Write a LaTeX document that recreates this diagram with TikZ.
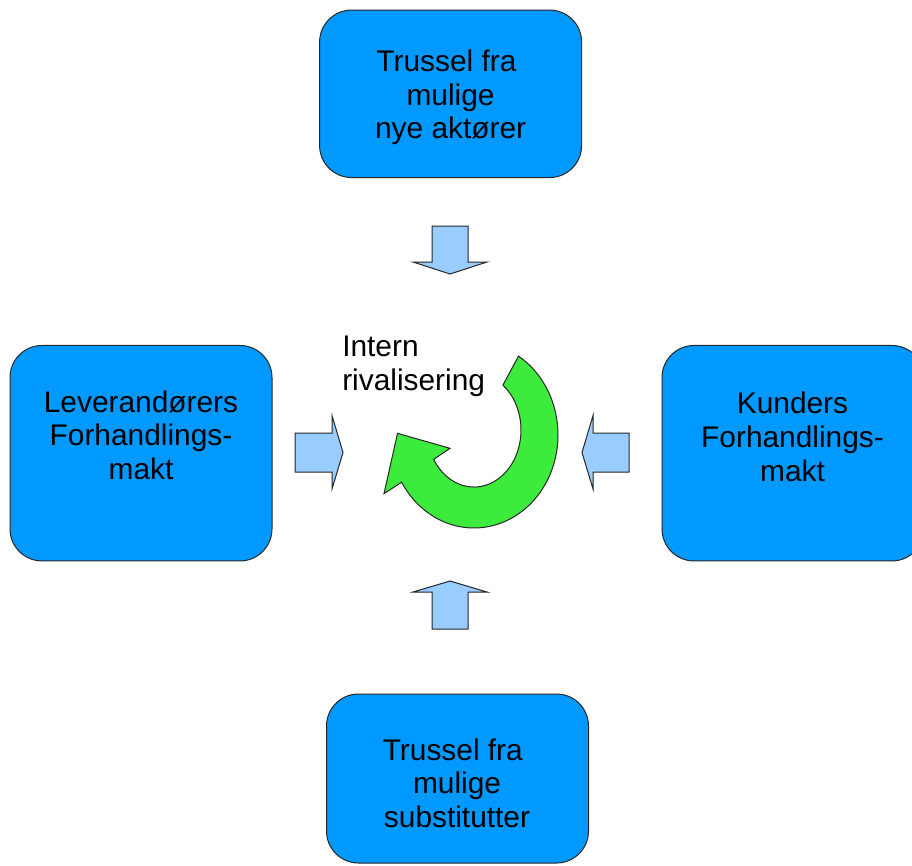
\documentclass[tikz,border=0pt]{standalone}
\usepackage{fontspec}
\setmainfont{Liberation Sans}
\definecolor{boxblue}{HTML}{0099FF}
\definecolor{arrowblue}{HTML}{99CCFF}
\definecolor{ringgreen}{HTML}{3DEB3D}
\begin{document}
\begin{tikzpicture}[x=0.75pt,y=-0.75pt,
  box/.style={draw=black!85, line width=0.75pt, fill=boxblue,
    rounded corners=24pt, inner sep=0pt, minimum width=196.5pt},
  lbl/.style={inner sep=0pt, align=center,
    font=\fontsize{22.4pt}{25.3pt}\selectfont},
  blockarrow/.style={draw=black!85, line width=0.75pt, fill=arrowblue,
    line join=miter},
  ringarrow/.style={draw=black!85, line width=0.75pt, fill=ringgreen,
    line join=miter}]
\useasboundingbox (0,0) rectangle (912,865);
\clip (0,0) rectangle (912,865);

% the five forces
\node[box, minimum height=125.6pt] (newentrants) at (450.6,93.8) {};
\node[lbl] (newentrants-text) at (450.6,97.3)
  {Trussel fra\hspace*{.28em}\\mulige\\nye aktører};

\node[box, minimum height=161.6pt] (suppliers) at (141,453.2) {};
\node[lbl] (suppliers-text) at (141,435.2)
  {Leverandørers\\Forhandlings-\\makt};

\node[box, minimum height=161.6pt] (customers) at (793,453.2) {};
\node[lbl] (customers-text) at (792.5,436.6)
  {Kunders\\Forhandlings-\\makt};

\node[box, minimum height=126.75pt] (substitutes) at (457.5,778.5) {};
\node[lbl] (substitutes-text) at (457,783.2)
  {Trussel fra\hspace*{.28em}\\mulige\hspace*{.28em}\\substitutter};

% rivalry in the middle
\node[lbl, align=left, anchor=west] (rivalry-text) at (342,366)
  {Intern\\rivalisering};

% block arrows pointing inwards
\draw[blockarrow] (432,226) -- (432,262) -- (413,262) -- (450,274)
  -- (487,262) -- (468,262) -- (468,226) -- cycle;
\draw[blockarrow] (295,433) -- (332,433) -- (332,415.5) -- (343,452.5)
  -- (332,489) -- (332,472) -- (295,472) -- cycle;
\draw[blockarrow] (629,433) -- (593,433) -- (593,415.5) -- (582,452.5)
  -- (593,489) -- (593,472) -- (629,472) -- cycle;
\draw[blockarrow] (432,629) -- (432,592) -- (413,592) -- (450,581)
  -- (487,592) -- (468,592) -- (468,629) -- cycle;

% circular arrow: outer arc, arrow head, inner arc back
\draw[ringarrow] (518.5,356.1)
  arc[start angle=-58, end angle=149.5, x radius=84, y radius=93]
  -- (384,493.7) -- (397.5,433.3) -- (450,448.3) -- (433.7,459.4)
  arc[start angle=149, end angle=-52, x radius=47, y radius=57]
  -- cycle;
\end{tikzpicture}
\end{document}
